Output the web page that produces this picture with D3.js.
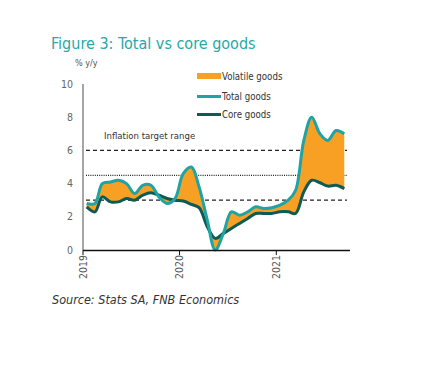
<!DOCTYPE html>
<html><head><meta charset="utf-8">
<script src="https://cdn.jsdelivr.net/npm/d3@7"></script>
<style>
body{margin:0;background:#fff;}
svg{display:block;}
text{font-family:"Liberation Sans Narrow","DejaVu Sans Condensed","Arial Narrow",sans-serif;}
</style></head>
<body>
<svg id="c" width="423" height="365"></svg>
<script>
const months = d3.range(33).map(i => new Date(2019, i, 15));
const totalGoods = [2.8,2.8,4.0,4.1,4.2,4.0,3.4,3.9,3.9,3.2,2.8,3.1,
                    4.6,5.0,3.8,1.8,0.0,1.0,2.3,2.1,2.3,2.6,2.5,2.55,
                    2.7,3.0,3.6,6.6,8.0,7.0,6.6,7.2,7.0];
const coreGoods  = [2.6,2.3,3.2,2.9,2.9,3.1,3.0,3.3,3.45,3.3,3.1,3.0,
                    2.95,2.75,2.55,1.4,0.7,1.0,1.3,1.6,1.9,2.2,2.2,2.2,
                    2.3,2.3,2.2,3.5,4.2,4.05,3.85,3.9,3.7];
const yTicks = [0,2,4,6,8,10];
const xTickYears = [2019,2020,2021];
const targetLow = 3, targetMid = 4.5, targetHigh = 6;
const legendLabels = ["Volatile goods","Total goods","Core goods"];

const TEAL = "#1fa3a3", CORE = "#0e5a55", ORANGE = "#f7a023";
const svg = d3.select("#c");
const x = d3.scaleTime().domain([new Date(2019,0,1), new Date(2021,9,1)]).range([83, 348.5]);
const y = d3.scaleLinear().domain([0,10]).range([250,84]);

// title
svg.append("text").attr("x",51).attr("y",49).attr("fill","#2aa7a7")
  .attr("font-size",16).text("Figure 3: Total vs core goods");
svg.append("text").attr("x",75).attr("y",66).attr("fill","#555")
  .attr("font-size",9).text("% y/y");

// y axis
svg.append("line").attr("x1",83).attr("x2",83).attr("y1",y(10)).attr("y2",y(0))
  .attr("stroke","#888").attr("stroke-width",1.5);
svg.selectAll(".yl").data(yTicks).join("text").attr("class","yl")
  .attr("x",73).attr("y",d=>y(d)+3.5).attr("text-anchor","end")
  .attr("fill","#666").attr("font-size",10.5).text(d=>d);

// target lines
const xs = 86, xe = 347;
svg.append("line").attr("x1",xs).attr("x2",xe).attr("y1",y(targetHigh)).attr("y2",y(targetHigh))
  .attr("stroke","#222").attr("stroke-width",1.3).attr("stroke-dasharray","4,3");
svg.append("line").attr("x1",xs).attr("x2",xe).attr("y1",y(targetLow)).attr("y2",y(targetLow))
  .attr("stroke","#222").attr("stroke-width",1.3).attr("stroke-dasharray","4,3");
svg.append("line").attr("x1",xs).attr("x2",xe).attr("y1",y(targetMid)).attr("y2",y(targetMid))
  .attr("stroke","#222").attr("stroke-width",1.3).attr("stroke-dasharray","1,1.2");
svg.append("text").attr("x",104).attr("y",139).attr("fill","#333")
  .attr("font-size",9.5).text("Inflation target range");

// area + lines
const curve = d3.curveCatmullRom.alpha(0.5);
const data = months.map((d,i)=>({d, t: totalGoods[i], c: coreGoods[i]}));
svg.append("path").datum(data)
  .attr("d", d3.area().x(d=>x(d.d)).y0(d=>y(d.c)).y1(d=>y(d.t)).curve(curve))
  .attr("fill",ORANGE);
svg.append("path").datum(data)
  .attr("d", d3.line().x(d=>x(d.d)).y(d=>y(d.c)).curve(curve))
  .attr("fill","none").attr("stroke",CORE).attr("stroke-width",3);
svg.append("path").datum(data)
  .attr("d", d3.line().x(d=>x(d.d)).y(d=>y(d.t)).curve(curve))
  .attr("fill","none").attr("stroke",TEAL).attr("stroke-width",3);

// x axis
svg.append("line").attr("x1",83).attr("x2",350).attr("y1",250.5).attr("y2",250.5)
  .attr("stroke","#111").attr("stroke-width",1.3);
xTickYears.forEach(yr=>{
  const px = x(new Date(yr,0,1));
  svg.append("line").attr("x1",px).attr("x2",px).attr("y1",250).attr("y2",255)
    .attr("stroke","#111").attr("stroke-width",1);
  svg.append("text").attr("transform",`translate(${px+3.5},255) rotate(-90)`)
    .attr("text-anchor","end").attr("fill","#555").attr("font-size",10.5).text(yr);
});

// legend
const lg = svg.append("g");
lg.append("rect").attr("x",197).attr("y",73).attr("width",24).attr("height",6).attr("fill",ORANGE);
lg.append("line").attr("x1",197).attr("x2",221).attr("y1",96.5).attr("y2",96.5).attr("stroke",TEAL).attr("stroke-width",3);
lg.append("line").attr("x1",197).attr("x2",221).attr("y1",114.5).attr("y2",114.5).attr("stroke",CORE).attr("stroke-width",3);
[79.5,99.5,117.5].forEach((yy,i)=>{
  lg.append("text").attr("x",222).attr("y",yy).attr("fill","#333").attr("font-size",9.6).text(legendLabels[i]);
});

// source
svg.append("text").attr("x",52).attr("y",304).attr("fill","#333")
  .attr("font-size",12.5).attr("font-style","italic").text("Source: Stats SA, FNB Economics");
</script>
</body></html>
